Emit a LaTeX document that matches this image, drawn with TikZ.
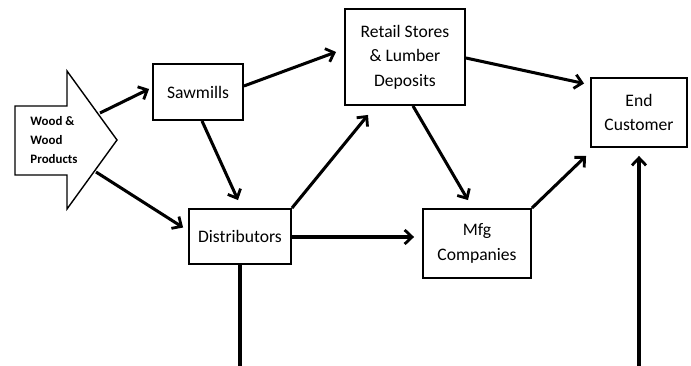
\documentclass[tikz,border=0pt]{standalone}
\usepackage{fontspec}
\setmainfont{Carlito}
\usetikzlibrary{arrows.meta,calc,positioning}

\begin{document}
\begin{tikzpicture}[x=0.03cm,y=-0.03cm,
    box/.style={draw,line width=1.6pt,align=center,inner sep=0pt,font=\fontsize{15}{21}\selectfont},
    flow/.style={line width=2.6pt,-{Straight Barb[length=2.2mm,width=4.2mm,line width=2.4pt]}}]

    \useasboundingbox (0,0) rectangle (691,366);

    %source arrow
    \draw [line width=1.2pt] (15,106) -- (67,106) -- (67,71) -- (117,140) -- (67,209) -- (67,175) -- (15,175) -- cycle;
    \node (wood) at (54,140) [align=left,font=\fontsize{11}{16.5}\selectfont\bfseries] {Wood \&\\Wood\\Products};
    \coordinate (hu) at (100,113);
    \coordinate (hl) at (96,172);

    %boxes
    \node (saw) at (198,92) [box,minimum width=2.7cm,minimum height=1.68cm] {Sawmills};
    \node (retail) at (405,57) [box,minimum width=3.6cm,minimum height=2.88cm] {Retail Stores\\\& Lumber\\Deposits};
    \node (dist) at (240,236.5) [box,minimum width=3.06cm,minimum height=1.65cm] {Distributors};
    \node (mfg) at (477,243.5) [box,minimum width=3.24cm,minimum height=2.07cm] {Mfg\\Companies};
    \node (endc) at (639,112.5) [box,minimum width=2.88cm,minimum height=2.07cm] {End\\Customer};

    %bottom corner, just below the page edge
    \coordinate (low) at (639,367.5);

    %arrows
    \draw [flow] (hu) -- ($(saw.west)+(-3,-3)$);
    \draw [flow] (hl) -- ($(dist.west)+(-5,-9)$);
    \draw [flow] ($(saw.east)+(0,-6)$) -- ($(retail.west)+(-8,-5)$);
    \draw [flow] ($(saw.south)+(4,0)$) -- ($(dist.north)+(-2,-8)$);
    \draw [flow] (dist.north east) -- ($(retail.south)+(-37,9)$);
    \draw [flow] ($(dist.east)+(0,0.5)$) -- ($(mfg.west)+(-8,-6.5)$);
    \draw [flow] ($(retail.south)+(8,0)$) -- ($(mfg.north)+(-9,-8)$);
    \draw [flow] ($(retail.east)+(0,1)$) -- ($(endc.west)+(-6,-29)$);
    \draw [flow] (mfg.north east) -- ($(endc.south west)+(-4,8)$);
    \draw [flow] (dist.south) |- (low) -- ($(endc.south)+(0,8)$);

\end{tikzpicture}
\end{document}
